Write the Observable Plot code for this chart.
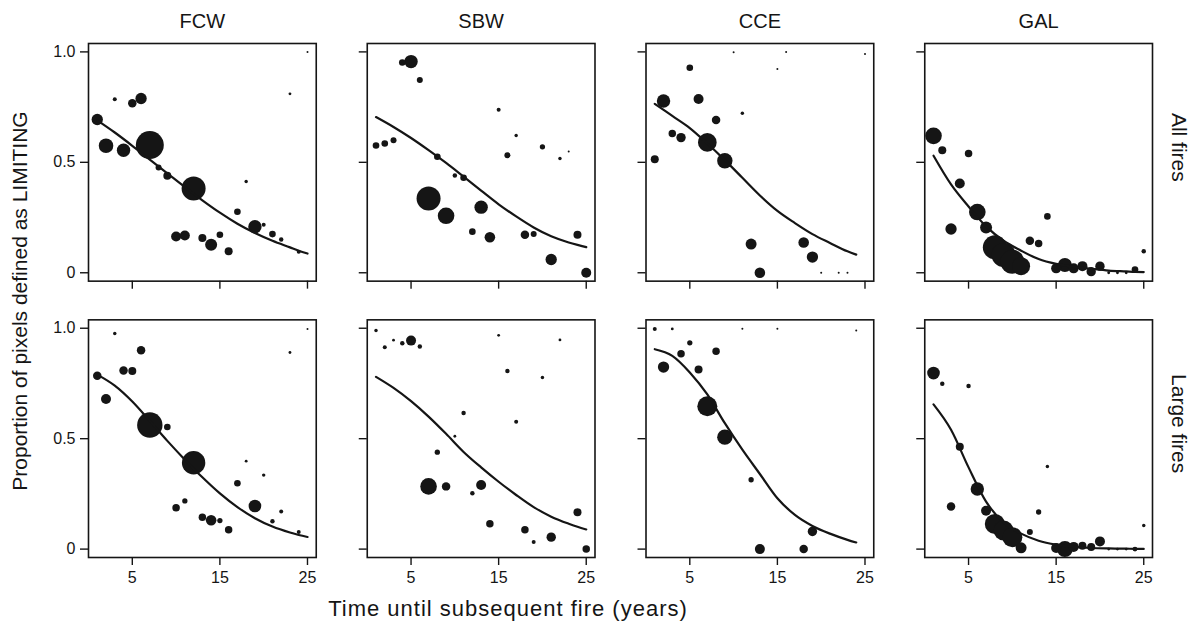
<!DOCTYPE html>
<html><head><meta charset="utf-8">
<script src="https://cdn.jsdelivr.net/npm/d3@7"></script>
<script src="https://cdn.jsdelivr.net/npm/@observablehq/plot@0.6"></script>
<style>body{margin:0;background:#fff;}</style>
</head><body><div id="chart"></div>
<script>
// ---------- data ----------
const regions = ["FCW", "SBW", "CCE", "GAL"];
const fireSets = ["All fires", "Large fires"];
const years = [1,2,3,4,5,6,7,8,9,10,11,12,13,14,15,16,17,18,19,20,21,22,23,24,25];
const xTicks = [5, 15, 25];
const yTicks = [0, 0.5, 1];

// proportions by year (null = no observation); weights = relative sample size
const fcwAllProp = [0.694,0.575,0.786,0.555,0.768,0.789,0.578,0.477,0.439,0.164,0.169,0.382,0.157,0.127,0.172,0.097,0.276,0.413,0.208,0.217,0.175,0.151,0.81,0.095,1.0];
const fcwAllW    = [32,53,4,45,18,32,196,9,16,25,25,144,16,36,11,16,11,3,45,4,11,5,2,4,1];
const sbwAllProp = [0.576,0.585,0.600,0.952,0.956,0.873,0.336,0.525,0.258,0.44,0.43,0.186,0.297,0.161,0.738,0.532,0.621,0.172,0.175,0.570,0.060,0.517,0.549,0.172,0.0];
const sbwAllW    = [11,11,9,11,45,9,144,11,69,5,11,11,45,28,4,9,3,18,9,7,32,3,1,16,25];
const cceAllProp = [0.514,0.778,0.630,0.612,0.928,0.787,0.590,0.692,0.507,0.998,0.722,0.130,0.0,null,0.922,1.0,null,0.137,0.071,0.0,null,0.0,0.0,null,0.99];
const cceAllW    = [16,45,14,22,11,25,87,18,59,1,3,30,28,null,1,1,null,28,32,1,null,1,1,null,1];
const galAllProp = [0.62,0.555,0.198,0.404,0.54,0.275,0.205,0.115,0.08,0.05,0.03,0.145,0.133,0.255,0.02,0.035,0.02,0.03,0.005,0.03,0.0,0.0,0.0,0.015,0.097];
const galAllW    = [69,16,32,25,14,69,36,144,144,144,81,18,14,11,25,49,25,25,22,22,2,2,2,11,5];

const fcwLargeProp = [0.785,0.68,0.976,0.809,0.806,0.9,0.562,null,0.553,0.187,0.218,0.391,0.144,0.131,0.129,0.088,0.298,0.398,0.195,0.335,0.126,0.17,0.89,0.078,0.997];
const fcwLargeW    = [18,25,3,18,16,18,161,null,11,14,7,137,14,28,7,14,11,2,40,3,5,4,2,4,1];
const sbwLargeProp = [0.99,0.914,0.946,0.932,0.944,0.917,0.284,0.439,0.284,0.511,0.616,0.253,0.29,0.115,0.968,0.806,0.577,0.088,0.032,0.777,0.054,0.947,null,0.167,0.0];
const sbwLargeW    = [3,4,2,5,25,5,69,7,18,2,5,5,25,14,2,5,4,14,4,3,22,2,null,16,14];
const cceLargeProp = [0.997,0.824,0.997,0.884,0.934,0.813,0.647,0.896,0.507,null,0.998,0.314,0.0,null,0.998,null,null,0.0,0.08,null,null,null,null,0.99,null];
const cceLargeW    = [4,32,2,14,7,16,100,14,59,null,1,7,25,null,1,null,null,18,22,null,null,null,null,1,null];
const galLargeProp = [0.797,0.749,0.193,0.463,0.738,0.272,0.174,0.114,0.084,0.054,0.006,0.078,0.168,0.374,0.005,0.0,0.01,0.015,0.01,0.035,0.0,0.0,0.0,0.0,0.107];
const galLargeW    = [40,5,18,16,5,45,25,100,100,100,30,9,7,3,25,64,25,16,16,25,2,2,2,6,3];

// fitted curves
const fitYears = [1,3,5,7,9,11,13,15,17,19,21,23,24,25];
const fcwAllFit   = [0.69,0.635,0.575,0.512,0.45,0.388,0.328,0.272,0.222,0.18,0.145,0.115,0.10,0.087];
const sbwAllFit   = [0.705,0.66,0.61,0.555,0.497,0.435,0.372,0.31,0.255,0.205,0.165,0.137,0.126,0.116];
const cceAllFit   = [0.765,0.71,0.655,0.585,0.51,0.43,0.35,0.28,0.225,0.175,0.135,0.097,0.082,null];
const galAllFit   = [0.53,0.40,0.30,0.21,0.145,0.10,0.062,0.04,0.027,0.018,0.01,0.006,0.004,0.003];
const fcwLargeFit = [0.79,0.74,0.668,0.58,0.49,0.405,0.325,0.252,0.19,0.14,0.102,0.075,0.064,0.055];
const sbwLargeFit = [0.78,0.73,0.67,0.60,0.522,0.44,0.37,0.305,0.245,0.19,0.147,0.115,0.101,0.089];
const cceLargeFit = [0.905,0.875,0.80,0.70,0.57,0.45,0.34,0.23,0.155,0.105,0.07,0.042,0.03,null];
const galLargeFit = [0.655,0.54,0.37,0.215,0.12,0.07,0.038,0.02,0.01,0.005,0.003,0.002,0.001,0.001];

// ---------- tables ----------
const panels = [
  ["FCW","All fires",fcwAllProp,fcwAllW,fcwAllFit],
  ["SBW","All fires",sbwAllProp,sbwAllW,sbwAllFit],
  ["CCE","All fires",cceAllProp,cceAllW,cceAllFit],
  ["GAL","All fires",galAllProp,galAllW,galAllFit],
  ["FCW","Large fires",fcwLargeProp,fcwLargeW,fcwLargeFit],
  ["SBW","Large fires",sbwLargeProp,sbwLargeW,sbwLargeFit],
  ["CCE","Large fires",cceLargeProp,cceLargeW,cceLargeFit],
  ["GAL","Large fires",galLargeProp,galLargeW,galLargeFit]
];
const points = [], fits = [];
for (const [region, fires, props, ws, fit] of panels) {
  years.forEach((t, i) => { if (props[i] != null) points.push({region, fires, time: t, prop: props[i], w: ws[i]}); });
  fitYears.forEach((t, i) => { if (fit[i] != null) fits.push({region, fires, time: t, prop: fit[i]}); });
}

const ink = "#151515";
const chart = Plot.plot({
  width: 1192, height: 625,
  marginTop: 43, marginBottom: 68, marginLeft: 88, marginRight: 40,
  style: {fontFamily: "'Liberation Sans', Arial, sans-serif", fontSize: "16px", color: ink, background: "#fff"},
  x: {domain: [0, 26]},
  y: {domain: [-0.038, 1.038]},
  r: {type: "sqrt", domain: [0, 196], range: [0, 14]},
  fx: {domain: regions, paddingInner: 0.183, paddingOuter: 0, round: false},
  fy: {domain: fireSets, paddingInner: 0.14, paddingOuter: 0, round: false},
  marks: [
    Plot.frame({stroke: ink, strokeWidth: 1.6}),
    Plot.axisY({ticks: yTicks, tickSize: 8, strokeWidth: 1.4, fill: "none", label: null, facetAnchor: null}),
    Plot.axisY({ticks: yTicks, tickSize: 0, tickPadding: 13, fontSize: 16, label: null, facetAnchor: "left",
                tickFormat: d => d === 0 ? "0" : d3.format(".1f")(d)}),
    Plot.axisX({ticks: xTicks, tickSize: 8, strokeWidth: 1.4, fill: "none", label: null, facetAnchor: null}),
    Plot.axisX({ticks: xTicks, tickSize: 0, tickPadding: 14, fontSize: 16, label: null, facetAnchor: "bottom"}),
    Plot.axisFx({anchor: "top", tickSize: 0, tickPadding: 16, label: null, fontSize: 20}),
    Plot.axisFy({anchor: "right", tickSize: 0, tickPadding: 34, tickRotate: 90, label: null, fontSize: 21, dy: -15}),
    Plot.dot(points, {x: "time", y: "prop", r: "w", fx: "region", fy: "fires", fill: ink}),
    Plot.line(fits, {x: "time", y: "prop", fx: "region", fy: "fires", stroke: ink, strokeWidth: 2.2, curve: "monotone-x"})
  ]
});

const svg = d3.select(chart);
svg.append("text")
  .attr("transform", "translate(20,301) rotate(-90)")
  .attr("text-anchor", "middle").attr("dy", "0.35em")
  .attr("font-size", 21).attr("fill", ink)
  .text("Proportion of pixels defined as LIMITING");
svg.append("text")
  .attr("x", 508).attr("y", 608)
  .attr("text-anchor", "middle").attr("dy", "0.35em")
  .attr("font-size", 22).attr("letter-spacing", "1px").attr("fill", ink)
  .text("Time until subsequent fire (years)");
document.getElementById("chart").appendChild(chart);
</script>
</body></html>
